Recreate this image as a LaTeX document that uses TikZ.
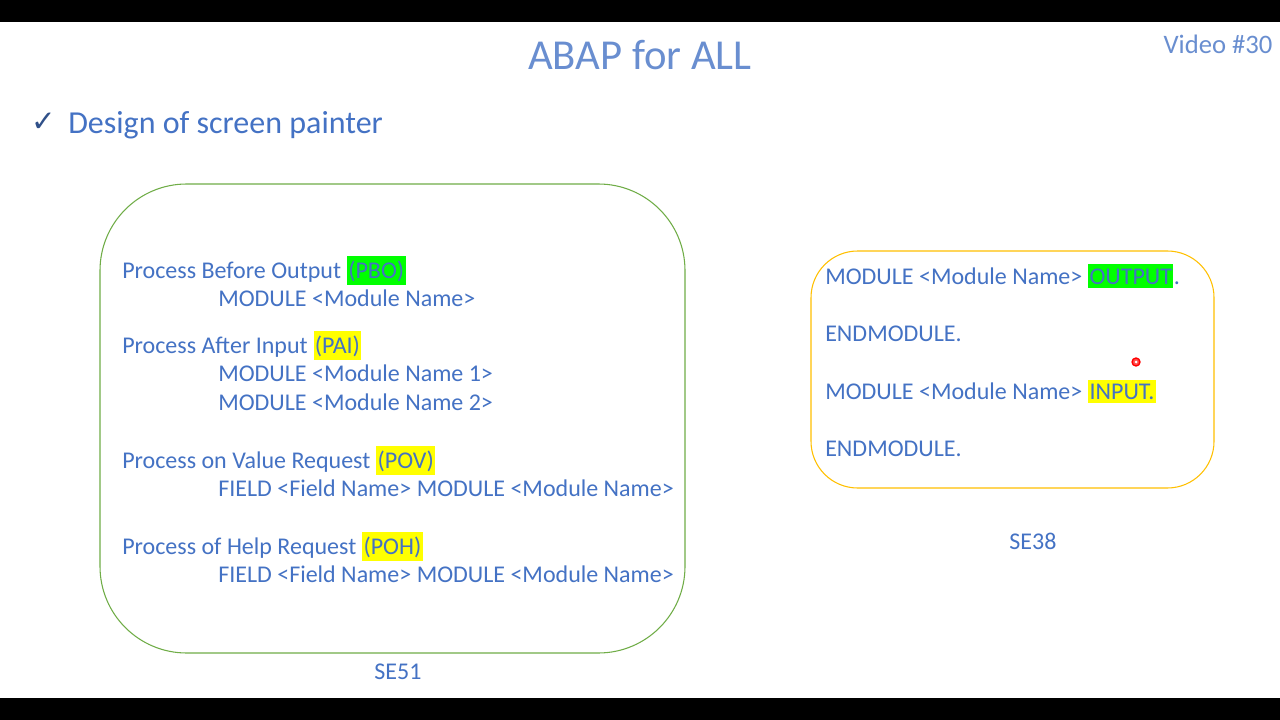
\documentclass[tikz,border=0pt]{standalone}
\usepackage{fontspec}
\setmainfont{Carlito}
\newfontfamily\symfont{DejaVu Sans}
\usetikzlibrary{positioning}
\definecolor{txtblue}{HTML}{4472C4}
\definecolor{boxgreen}{HTML}{70AD47}
\definecolor{boxgold}{HTML}{FFC000}
\definecolor{hlgreen}{HTML}{00FF00}
\definecolor{hlyellow}{HTML}{FFFF00}
\begin{document}
\begin{tikzpicture}[x=0.75pt,y=-0.75pt,
  txt/.style={anchor=base west,inner sep=0pt,text=txtblue,font=\fontsize{18}{21}\selectfont},
  hl/.style={txt,inner xsep=1pt,inner ysep=3pt,anchor=base west},
  frame/.style={rounded corners=65pt,line width=0.8pt}]
\fill[white] (0,0) rectangle (1280,720);
\fill[black] (0,0) rectangle (1280,22);
\fill[black] (0,698) rectangle (1280,720);
% headings
\node[text=txtblue!80,font=\fontsize{32}{36}\selectfont] (title) at (640,55) {ABAP for ALL};
\node[text=txtblue!80,font=\fontsize{20}{24}\selectfont] (video) at (1218,44) {Video \#30};
\node[txt,text=txtblue!70!black,font=\symfont\fontsize{22}{24}\selectfont] (tick) at (31,132) {✓};
\node[txt,font=\fontsize{24}{28}\selectfont] (design) at (68,134) {Design of screen painter};
% left frame
\draw[frame,boxgreen] (100,184) rectangle (685,653);
\node[txt] (pbo) at (122,278) {Process Before Output};
\node[hl,fill=hlgreen,right=4pt of pbo.base east,anchor=base west] {(PBO)};
\node[txt] (pbo1) at (218,306) {MODULE <Module Name>};
\node[txt] (pai) at (122,353) {Process After Input};
\node[hl,fill=hlyellow,right=4pt of pai.base east,anchor=base west] {(PAI)};
\node[txt] (pai1) at (218,381) {MODULE <Module Name 1>};
\node[txt] (pai2) at (218,410) {MODULE <Module Name 2>};
\node[txt] (pov) at (122,468) {Process on Value Request};
\node[hl,fill=hlyellow,right=4pt of pov.base east,anchor=base west] {(POV)};
\node[txt] (pov1) at (218,496) {FIELD <Field Name> MODULE <Module Name>};
\node[txt] (poh) at (122,554) {Process of Help Request};
\node[hl,fill=hlyellow,right=4pt of poh.base east,anchor=base west] {(POH)};
\node[txt] (poh1) at (218,582) {FIELD <Field Name> MODULE <Module Name>};
\node[txt,anchor=center] (se51) at (398,672) {SE51};
% right frame
\draw[frame,boxgold,rounded corners=35pt] (811,251) rectangle (1214,488);
\node[txt] (mout) at (825,284) {MODULE <Module Name>};
\node[hl,fill=hlgreen,right=4pt of mout.base east,anchor=base west] (outp) {OUTPUT};
\node[txt,right=0pt of outp.base east,anchor=base west] {.};
\node[txt] (end1) at (825,341) {ENDMODULE.};
\node[txt] (min) at (825,399) {MODULE <Module Name>};
\node[hl,fill=hlyellow,right=4pt of min.base east,anchor=base west] {INPUT.};
\node[txt] (end2) at (825,456) {ENDMODULE.};
\node[txt,anchor=center] (se38) at (1033,541) {SE38};
% pointer
\draw[red,fill=red!70,line width=1pt] (1136,362) circle (4);
\fill[white] (1136,362) circle (1.5);
\end{tikzpicture}
\end{document}
